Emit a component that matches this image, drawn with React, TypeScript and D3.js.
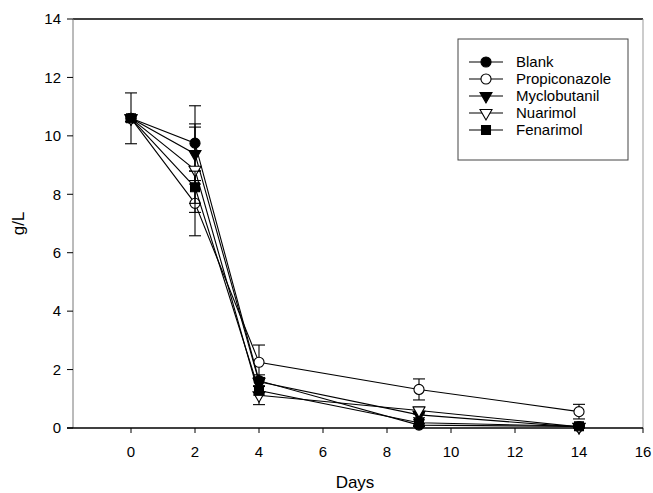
import React from 'react';
import * as d3 from 'd3';

const DAYS = [0, 2, 4, 9, 14];
const SERIES_NAMES = ['Blank', 'Propiconazole', 'Myclobutanil', 'Nuarimol', 'Fenarimol'];

const blank = [10.6, 9.75, 1.62, 0.1, 0.05];
const propiconazole = [10.6, 7.69, 2.25, 1.32, 0.56];
const myclobutanil = [10.6, 9.38, 1.58, 0.45, 0.03];
const nuarimol = [10.6, 8.84, 1.12, 0.6, 0.04];
const fenarimol = [10.6, 8.24, 1.28, 0.18, 0.06];

const blankErr = [0.87, 1.28, 0.2, 0.05, 0.04];
const propiconazoleErr = [0.12, 1.11, 0.59, 0.36, 0.25];
const myclobutanilErr = [0.1, 1.03, 0.15, 0.1, 0.03];
const nuarimolErr = [0.12, 1.46, 0.32, 0.12, 0.03];
const fenarimolErr = [0.1, 0.55, 0.15, 0.1, 0.03];

const X_TICKS = [0, 2, 4, 6, 8, 10, 12, 14, 16];
const Y_TICKS = [0, 2, 4, 6, 8, 10, 12, 14];

const W = 653;
const H = 493;
const FONT = '"Liberation Sans", Arial, sans-serif';

// frame in pixels (SigmaPlot style box)
const LEFT = 73;
const RIGHT = 643;
const TOP = 19;
const BOTTOM = 428;

type Marker = { type: d3.SymbolType; size: number; filled: boolean; rotate: number };

const markers: Marker[] = [
  { type: d3.symbolCircle, size: 80, filled: true, rotate: 0 },
  { type: d3.symbolCircle, size: 80, filled: false, rotate: 0 },
  { type: d3.symbolTriangle, size: 62, filled: true, rotate: 180 },
  { type: d3.symbolTriangle, size: 62, filled: false, rotate: 180 },
  { type: d3.symbolSquare, size: 80, filled: true, rotate: 0 },
];

const values = [blank, propiconazole, myclobutanil, nuarimol, fenarimol];
const errors = [blankErr, propiconazoleErr, myclobutanilErr, nuarimolErr, fenarimolErr];

const series = SERIES_NAMES.map((name, i) => ({
  name,
  marker: markers[i],
  points: DAYS.map((d, j) => ({ day: d, v: values[i][j], e: errors[i][j] })),
}));

function Symbol({ m, x, y }: { m: Marker; x: number; y: number }) {
  const d = d3.symbol().type(m.type).size(m.size)() || '';
  return (
    <path
      d={d}
      transform={`translate(${x},${y}) rotate(${m.rotate})`}
      fill={m.filled ? '#000' : '#fff'}
      stroke="#000"
      strokeWidth={1.1}
    />
  );
}

export default function App() {
  const x = d3.scaleLinear().domain([-2, 16]).range([67, 643]);
  const y = d3.scaleLinear().domain([0, 14]).range([BOTTOM, TOP]);
  const lineGen = d3
    .line<{ day: number; v: number }>()
    .x((p) => x(p.day))
    .y((p) => y(p.v));
  const cap = 6;

  const legendX = 458;
  const legendY = 39;
  const legendRowY = (i: number) => legendY + 23 + i * 17;

  return (
    <svg
      width={W}
      height={H}
      style={{ position: 'absolute', left: 0, top: 0, background: '#fff' }}
      fontFamily={FONT}
    >
      <rect width={W} height={H} fill="#fff" />

      {/* frame */}
      <line x1={LEFT} x2={RIGHT} y1={TOP} y2={TOP} stroke="#000" strokeWidth={1.3} />
      <line x1={RIGHT} x2={RIGHT} y1={TOP} y2={BOTTOM} stroke="#999" strokeWidth={1} />
      <line x1={LEFT} x2={LEFT} y1={TOP} y2={BOTTOM} stroke="#777" strokeWidth={1} />
      <line x1={x(-2)} x2={x(16)} y1={BOTTOM} y2={BOTTOM} stroke="#000" strokeWidth={1.3} />

      {/* y axis */}
      {Y_TICKS.map((t) => (
        <g key={t}>
          <line x1={LEFT - 6} x2={LEFT} y1={y(t)} y2={y(t)} stroke="#000" strokeWidth={1} />
          <text x={LEFT - 12} y={y(t)} dy="0.35em" textAnchor="end" fontSize={15} fill="#000">
            {t}
          </text>
        </g>
      ))}
      <text
        transform={`translate(24,${(TOP + BOTTOM) / 2}) rotate(-90)`}
        textAnchor="middle"
        fontSize={17}
        fill="#000"
      >
        g/L
      </text>

      {/* x axis */}
      {X_TICKS.map((t) => (
        <g key={t}>
          <line x1={x(t)} x2={x(t)} y1={BOTTOM} y2={BOTTOM + 5} stroke="#000" strokeWidth={1} />
          <text x={x(t)} y={BOTTOM + 29} textAnchor="middle" fontSize={15} fill="#000">
            {t}
          </text>
        </g>
      ))}
      <text x={355} y={488} textAnchor="middle" fontSize={17} fill="#000">
        Days
      </text>

      {/* series */}
      {series.map((s) => (
        <g key={s.name}>
          <path d={lineGen(s.points) || ''} fill="none" stroke="#000" strokeWidth={1.1} />
          {s.points.map((p) => (
            <g key={p.day} stroke="#000" strokeWidth={1.1}>
              <line x1={x(p.day)} x2={x(p.day)} y1={y(p.v + p.e)} y2={y(Math.max(0, p.v - p.e))} />
              <line x1={x(p.day) - cap} x2={x(p.day) + cap} y1={y(p.v + p.e)} y2={y(p.v + p.e)} />
              <line
                x1={x(p.day) - cap}
                x2={x(p.day) + cap}
                y1={y(Math.max(0, p.v - p.e))}
                y2={y(Math.max(0, p.v - p.e))}
              />
            </g>
          ))}
          {s.points.map((p) => (
            <Symbol key={p.day} m={s.marker} x={x(p.day)} y={y(p.v)} />
          ))}
        </g>
      ))}

      {/* legend */}
      <rect x={legendX} y={legendY} width={170} height={121} fill="#fff" stroke="#444" strokeWidth={1} />
      {series.map((s, i) => (
        <g key={s.name}>
          <line
            x1={legendX + 11}
            x2={legendX + 45}
            y1={legendRowY(i)}
            y2={legendRowY(i)}
            stroke="#000"
            strokeWidth={1.1}
          />
          <Symbol m={s.marker} x={legendX + 28} y={legendRowY(i)} />
          <text x={legendX + 58} y={legendRowY(i)} dy="0.35em" fontSize={15} fill="#000">
            {s.name}
          </text>
        </g>
      ))}
    </svg>
  );
}
